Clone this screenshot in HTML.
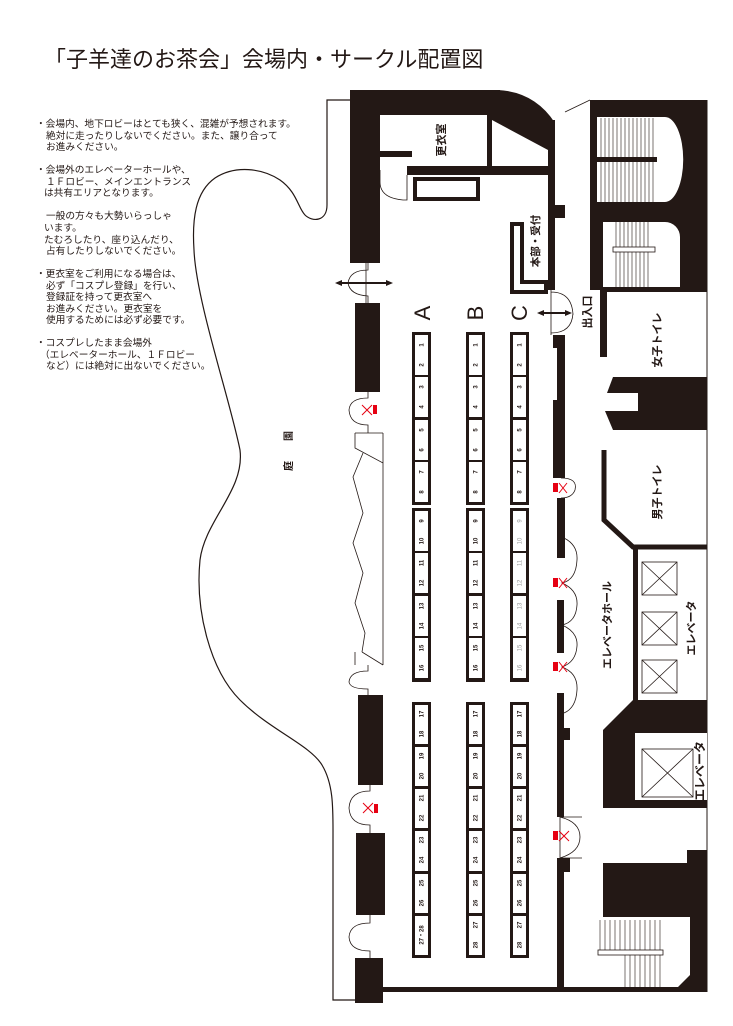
<!DOCTYPE html>
<html><head><meta charset="utf-8"><style>
html,body{margin:0;padding:0;background:#fff;}
svg{display:block;}
text{font-family:"Liberation Sans","Noto Sans CJK JP",sans-serif;}
.n{font-size:6px;font-weight:bold;fill:#231815;text-anchor:middle;}
.g{fill:#999;font-weight:normal;}
.t{font-size:9.7px;fill:#231815;}
.v{font-weight:bold;fill:#231815;text-anchor:middle;}
</style></head><body>
<svg width="733" height="1026" viewBox="0 0 733 1026" xmlns="http://www.w3.org/2000/svg">
<rect width="733" height="1026" fill="#fff"/>
<text x="44" y="67" style="font-size:22px;fill:#231815;">「子羊達のお茶会」会場内・サークル配置図</text>

<g class="t">
<text x="36" y="127" class="t">・会場内、地下ロビーはとても狭く、混雑が予想されます。</text>
<text x="46" y="139" class="t">絶対に走ったりしないでください。また、譲り合って</text>
<text x="46" y="150" class="t">お進みください。</text>
<text x="36" y="173" class="t">・会場外のエレベーターホールや、</text>
<text x="46" y="185" class="t">１Ｆロビー、メインエントランス</text>
<text x="44" y="196" class="t">は共有エリアとなります。</text>
<text x="46" y="219" class="t">一般の方々も大勢いらっしゃ</text>
<text x="44" y="231" class="t">います。</text>
<text x="44" y="243" class="t">たむろしたり、座り込んだり、</text>
<text x="46" y="254" class="t">占有したりしないでください。</text>
<text x="36" y="277" class="t">・更衣室をご利用になる場合は、</text>
<text x="46" y="289" class="t">必ず「コスプレ登録」を行い、</text>
<text x="46" y="300" class="t">登録証を持って更衣室へ</text>
<text x="46" y="312" class="t">お進みください。更衣室を</text>
<text x="46" y="323" class="t">使用するためには必ず必要です。</text>
<text x="36" y="346" class="t">・コスプレしたまま会場外</text>
<text x="40" y="358" class="t">（エレベーターホール、１Ｆロビー</text>
<text x="46" y="369" class="t">など）には絶対に出ないでください。</text>
</g>

<!-- garden outline -->
<path d="M350,100 L327,100 L327,205 C327,222 312,222 305,215 C298,208 297,192 280,180 C262,168 235,165 215,178 C195,192 192,220 194,250 C196,300 230,400 240,450 C245,490 205,520 200,560 C195,610 210,670 240,700 C270,730 310,745 322,765 C334,785 333,810 333,840 L333,1000 L355,1000" fill="none" stroke="#231815" stroke-width="1.2"/>
<text class="v" style="font-size:10px" transform="translate(289,436) rotate(-90)" y="3">園</text>
<text class="v" style="font-size:10px" transform="translate(289,466) rotate(-90)" y="3">庭</text>

<g fill="#231815">
<rect x="350" y="90" width="30" height="173"/>
<rect x="350" y="90" width="150" height="25"/>
<path d="M498,90 Q535,92 555,123 L555,175 L487,175 L487,115 L498,115 Z"/>
<rect x="407" y="166" width="148" height="9"/>
<rect x="380" y="151" width="32" height="6"/>
<rect x="548" y="120" width="7" height="170"/>
<rect x="555" y="205" width="10" height="13"/>
<rect x="553" y="335" width="12" height="13"/>
<rect x="557" y="348" width="8" height="130"/>
<rect x="553" y="400" width="12" height="78"/>
<rect x="557" y="498" width="8" height="60"/>
<rect x="557" y="600" width="7" height="53"/>
<rect x="557" y="693" width="7" height="124"/>
<rect x="563" y="728" width="7" height="12"/>
<rect x="557" y="858" width="13" height="14"/>
<rect x="557" y="872" width="7" height="118"/>
<rect x="383" y="987" width="324" height="5"/>
<rect x="355" y="303" width="25" height="89"/>
<rect x="358" y="695" width="25" height="90"/>
<rect x="356" y="833" width="29" height="82"/>
<rect x="355" y="958" width="28" height="45"/>
</g>
<rect x="380" y="115" width="107" height="51" fill="#fff"/>
<polygon points="492,120 548,150 548,166 492,166" fill="#fff"/>
<rect x="380" y="151" width="32" height="6" fill="#231815"/>
<text class="v" style="font-size:11px" transform="translate(441,140) rotate(-90)" y="4">更衣室</text>
<rect x="415" y="179" width="63" height="20" fill="none" stroke="#231815" stroke-width="4"/>
<path d="M512,224 H522 V282 H546 V292 H512 Z" fill="none" stroke="#231815" stroke-width="4"/>
<text class="v" style="font-size:10.5px" transform="translate(535,241) rotate(-90)" y="4">本部・受付</text>

<g fill="none" stroke="#231815" stroke-width="0.8">
<path d="M380,170 V182 M380,182 Q380,198 403,200 L407,200 V175"/>
<path d="M368,263 V270 Q350,270 348,283 M368,303 V296 Q350,295 348,283 M366,263 V303"/>
<path d="M551,290 V335 M551,292 Q572,292 573,315 M551,333 Q572,333 573,313"/>
<path d="M368,392 V398 Q350,398 349,410 Q350,425 368,425 V433"/>
<path d="M383,433 V665 M355,433 H383 M355,433 V448 L383,463 M362,652 L383,665 M355,652 V665"/>
<polyline points="363,453 353,477 363,513 353,543 363,573 355,603 365,633 362,652"/>
<path d="M368,665 V671 Q350,671 349,682 Q350,689 368,689 V695"/>
<path d="M370,785 V791 Q350,791 349,808 Q350,825 370,825 V833"/>
<path d="M370,915 V923 Q350,923 349,937 Q350,951 370,951 V958"/>
<path d="M561,478 Q578,478 575,490 Q572,498 561,498"/>
<path d="M564,538 Q578,545 577,560 Q576,580 562,583 Q578,590 577,605 Q576,622 562,625 Q578,632 577,646 Q576,662 562,667 Q578,673 577,690 Q576,708 564,713"/>
<path d="M560,817 Q580,817 582,817 M560,817 Q580,822 580,837 M560,858 Q580,858 582,858 M560,858 Q580,852 580,837 M560,817 V858"/>
<path d="M565,112 L590,100"/>
</g>
<g stroke="#231815" stroke-width="2" fill="#231815">
<line x1="339" y1="283" x2="389" y2="283"/>
<polygon points="335,283 342,280 342,286" stroke="none"/>
<polygon points="393,283 386,280 386,286" stroke="none"/>
<line x1="541" y1="313" x2="568" y2="313"/>
<polygon points="537,313 544,310 544,316" stroke="none"/>
<polygon points="572,313 565,310 565,316" stroke="none"/>
</g>
<text class="v" style="font-size:11px" transform="translate(587,312) rotate(-90)" y="4">出入口</text>

<rect x="590" y="100" width="117" height="190" fill="#231815"/>
<path d="M597,117 H665 A18,42 0 0 1 665,202 H597 Z" fill="#fff"/>
<rect x="590" y="157" width="67" height="5" fill="#231815"/>
<rect x="593" y="202" width="114" height="20" fill="#231815"/>
<path d="M603,222 H665 A15,15 0 0 1 680,237 V287 H603 Z" fill="#fff"/>
<g stroke="#231815" stroke-width="0.6">
<path d="M601,118V157M605,118V157M609,118V157M613,118V157M617,118V157M621,118V157M625,118V157M629,118V157M633,118V157M637,118V157M641,118V157M645,118V157M649,118V157M653,118V157"/>
<path d="M601,162V202M605,162V202M609,162V202M613,162V202M617,162V202M621,162V202M625,162V202M629,162V202M633,162V202M637,162V202M641,162V202M645,162V202M649,162V202M653,162V202"/>
<path d="M616,222V287M620,222V287M624,222V287M628,222V287M632,222V287M636,222V287M640,222V287M644,222V287M648,222V287"/>
</g>
<rect x="613" y="247" width="42" height="5" fill="#fff" stroke="#231815" stroke-width="0.8"/>
<rect x="600" y="287" width="107" height="5" fill="#231815"/>
<rect x="600" y="287" width="7" height="70" fill="#231815"/>
<line x1="707" y1="100" x2="707" y2="992" stroke="#231815" stroke-width="1"/>
<text class="v" style="font-size:11px" transform="translate(657,340) rotate(-90)" y="4">女子トイレ</text>
<path d="M613,377 H707 V430 H613 L605,411 H638 V393 H607 Z" fill="#231815"/>
<polyline points="604,450 604,520 633,547 707,547" fill="none" stroke="#231815" stroke-width="5"/>
<rect x="633" y="547" width="5" height="155" fill="#231815"/>
<text class="v" style="font-size:11px" transform="translate(657,492) rotate(-90)" y="4">男子トイレ</text>
<text class="v" style="font-size:11px" transform="translate(607,625) rotate(-90)" y="4">エレベータホール</text>
<text class="v" style="font-size:11px" transform="translate(691,628) rotate(-90)" y="4">エレベータ</text>
<g fill="none" stroke="#231815" stroke-width="0.8">
<rect x="642" y="562" width="35" height="33"/><path d="M642,562L677,595M677,562L642,595"/>
<rect x="642" y="612" width="35" height="33"/><path d="M642,612L677,645M677,612L642,645"/>
<rect x="642" y="660" width="35" height="33"/><path d="M642,660L677,693M677,660L642,693"/>
</g>
<path d="M633,700 H707 V808 H603 V730 Z" fill="#231815"/>
<rect x="635" y="733" width="72" height="67" fill="#fff"/>
<rect x="642" y="749" width="51" height="48" fill="none" stroke="#231815" stroke-width="0.8"/>
<path d="M642,749L693,797M693,749L642,797" stroke="#231815" stroke-width="0.8"/>
<text class="v" style="font-size:12px" transform="translate(700,771) rotate(-90)" y="4">エレベータ</text>
<path d="M603,863 H687 V850 H707 V990 H603 Z" fill="#231815"/>
<path d="M597,917 H690 V975 L677,988 H597 Z" fill="#fff"/>
<g stroke="#231815" stroke-width="0.6">
<path d="M600,920V950M605,920V950M610,920V950M615,920V950M620,920V950M625,920V950M630,920V950M635,920V950M640,920V950M645,920V950M650,920V950M655,920V950M660,920V950"/>
<path d="M625,955V987M630,955V987M635,955V987M640,955V987M645,955V987M650,955V987M655,955V987M660,955V987"/>
</g>
<rect x="598" y="950" width="65" height="5" fill="#fff" stroke="#231815" stroke-width="0.8"/>
<rect x="597" y="987" width="110" height="5" fill="#231815"/>

<g stroke="#e60012" stroke-width="1" fill="none">
<path d="M362,405L372,415M372,405L362,415"/>
<path d="M559,483L567,493M567,483L559,493"/>
<path d="M559,578L567,588M567,578L559,588"/>
<path d="M559,662L567,672M567,662L559,672"/>
<path d="M363,803L373,813M373,803L363,813"/>
<path d="M559,831L569,841M569,831L559,841"/>
</g>
<g fill="#e60012">
<rect x="373" y="405" width="4" height="9"/>
<rect x="553" y="483" width="5" height="9"/>
<rect x="553" y="578" width="5" height="9"/>
<rect x="553" y="662" width="5" height="9"/>
<rect x="374" y="804" width="4" height="9"/>
<rect x="553" y="831" width="5" height="9"/>
</g>

<g style="font-size:22px;fill:#231815;">
<text transform="translate(422,313) rotate(-90)" text-anchor="middle" y="8">A</text>
<text transform="translate(475,313) rotate(-90)" text-anchor="middle" y="8">B</text>
<text transform="translate(519,313) rotate(-90)" text-anchor="middle" y="8">C</text>
</g>

<g fill="#231815">
<rect x="412" y="332" width="19" height="173"/><rect x="412" y="508" width="19" height="174"/><rect x="412" y="702" width="19" height="256"/>
<rect x="466" y="332" width="19" height="173"/><rect x="466" y="508" width="19" height="174"/><rect x="466" y="702" width="19" height="256"/>
<rect x="510" y="332" width="19" height="173"/><rect x="510" y="508" width="19" height="174"/><rect x="510" y="702" width="19" height="256"/>
</g>
<g fill="#fff">
<g id="ca">
<rect x="415" y="335" width="13" height="40"/><rect x="415" y="377" width="13" height="40"/><rect x="415" y="420" width="13" height="40"/><rect x="415" y="462" width="13" height="40"/>
<rect x="415" y="511" width="13" height="40"/><rect x="415" y="553" width="13" height="40"/><rect x="415" y="596" width="13" height="40"/><rect x="415" y="638" width="13" height="40"/>
<rect x="415" y="705" width="13" height="39"/><rect x="415" y="747" width="13" height="39"/><rect x="415" y="789" width="13" height="39"/><rect x="415" y="831" width="13" height="40"/><rect x="415" y="874" width="13" height="39"/><rect x="415" y="916" width="13" height="39"/>
</g>
<use href="#ca" x="54"/>
<use href="#ca" x="98"/>
</g>
<g class="n">
<g transform="translate(421.5,0) rotate(-90)">
<text x="-345" y="2">1</text><text x="-365" y="2">2</text><text x="-387" y="2">3</text><text x="-407" y="2">4</text>
<text x="-430" y="2">5</text><text x="-450" y="2">6</text><text x="-472" y="2">7</text><text x="-492" y="2">8</text>
<text x="-521" y="2">9</text><text x="-541" y="2">10</text><text x="-563" y="2">11</text><text x="-583" y="2">12</text>
<text x="-606" y="2">13</text><text x="-626" y="2">14</text><text x="-648" y="2">15</text><text x="-668" y="2">16</text>
<text x="-714" y="2">17</text><text x="-734" y="2">18</text><text x="-756" y="2">19</text><text x="-776" y="2">20</text>
<text x="-798" y="2">21</text><text x="-818" y="2">22</text><text x="-840" y="2">23</text><text x="-860" y="2">24</text>
<text x="-883" y="2">25</text><text x="-903" y="2">26</text><text x="-935" y="2">27・28</text>
</g>
<g transform="translate(475.5,0) rotate(-90)">
<text x="-345" y="2">1</text><text x="-365" y="2">2</text><text x="-387" y="2">3</text><text x="-407" y="2">4</text>
<text x="-430" y="2">5</text><text x="-450" y="2">6</text><text x="-472" y="2">7</text><text x="-492" y="2">8</text>
<text x="-521" y="2">9</text><text x="-541" y="2">10</text><text x="-563" y="2">11</text><text x="-583" y="2">12</text>
<text x="-606" y="2">13</text><text x="-626" y="2">14</text><text x="-648" y="2">15</text><text x="-668" y="2">16</text>
<text x="-714" y="2">17</text><text x="-734" y="2">18</text><text x="-756" y="2">19</text><text x="-776" y="2">20</text>
<text x="-798" y="2">21</text><text x="-818" y="2">22</text><text x="-840" y="2">23</text><text x="-860" y="2">24</text>
<text x="-883" y="2">25</text><text x="-903" y="2">26</text><text x="-925" y="2">27</text><text x="-945" y="2">28</text>
</g>
<g transform="translate(519.5,0) rotate(-90)">
<text x="-345" y="2">1</text><text x="-365" y="2">2</text><text x="-387" y="2">3</text><text x="-407" y="2">4</text>
<text x="-430" y="2">5</text><text x="-450" y="2">6</text><text x="-472" y="2">7</text><text x="-492" y="2">8</text>
<text class="n g" x="-521" y="2">9</text><text class="n g" x="-541" y="2">10</text><text class="n g" x="-563" y="2">11</text><text class="n g" x="-583" y="2">12</text>
<text class="n g" x="-606" y="2">13</text><text class="n g" x="-626" y="2">14</text><text class="n g" x="-648" y="2">15</text><text class="n g" x="-668" y="2">16</text>
<text x="-714" y="2">17</text><text x="-734" y="2">18</text><text x="-756" y="2">19</text><text x="-776" y="2">20</text>
<text x="-798" y="2">21</text><text x="-818" y="2">22</text><text x="-840" y="2">23</text><text x="-860" y="2">24</text>
<text x="-883" y="2">25</text><text x="-903" y="2">26</text><text x="-925" y="2">27</text><text x="-945" y="2">28</text>
</g>
</g>
</svg>
</body></html>
